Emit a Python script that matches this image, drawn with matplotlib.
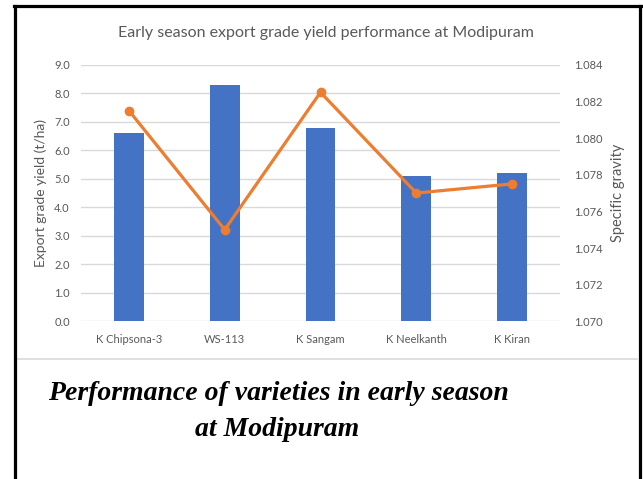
import matplotlib
matplotlib.use("Agg")
import matplotlib.pyplot as plt
from matplotlib.lines import Line2D
import numpy as np

varieties = ["K Chipsona-3", "WS-113", "K Sangam", "K Neelkanth", "K Kiran"]
yield_tha = [6.6, 8.3, 6.8, 5.1, 5.2]
specific_gravity = [1.0815, 1.075, 1.0825, 1.077, 1.0775]
left_ticks = [0.0, 1.0, 2.0, 3.0, 4.0, 5.0, 6.0, 7.0, 8.0, 9.0]
right_ticks = [1.070, 1.072, 1.074, 1.076, 1.078, 1.080, 1.082, 1.084]

W, H = 643, 479
fig = plt.figure(figsize=(W / 100, H / 100), dpi=100)
fig.patch.set_facecolor("white")

gray = "#595959"
grid = "#D9D9D9"
font = ["Lato", "DejaVu Sans"]

ax = fig.add_axes([81 / W, 1 - 321.3 / H, (560 - 81) / W, (321.3 - 64.8) / H])
x = np.arange(len(varieties))
ax.bar(x, yield_tha, width=0.31, color="#4472C4", zorder=2)
ax.set_xlim(-0.5, len(varieties) - 0.5)
ax.set_ylim(0, 9)
ax.set_yticks(left_ticks)
ax.set_yticklabels([f"{v:.1f}" for v in left_ticks], fontfamily=font, fontsize=8, color=gray)
ax.set_xticks(x)
ax.set_xticklabels(varieties, fontfamily=font, fontsize=8, color=gray)
ax.tick_params(axis="both", length=0)
ax.tick_params(axis="y", pad=8)
ax.tick_params(axis="x", pad=9)
ax.yaxis.grid(True, color=grid, linewidth=1, zorder=0)
ax.set_axisbelow(True)
for s in ax.spines.values():
    s.set_visible(False)
ax.set_ylabel("Export grade yield (t/ha)", fontfamily=font, fontsize=10, color=gray, labelpad=5)

ax2 = ax.twinx()
ax2.plot(x, specific_gravity, color="#ED7D31", linewidth=2.3, marker="o", markersize=6, zorder=3)
ax2.set_ylim(1.070, 1.084)
ax2.set_yticks(right_ticks)
ax2.set_yticklabels([f"{v:.3f}" for v in right_ticks], fontfamily=font, fontsize=8, color=gray)
ax2.tick_params(axis="y", length=0, pad=10)
for s in ax2.spines.values():
    s.set_visible(False)
ax2.set_ylabel("Specific gravity", fontfamily=font, fontsize=10.5, color=gray, labelpad=6)

fig.text(326 / W, 1 - 33 / H, "Early season export grade yield performance at Modipuram",
         ha="center", va="center", fontfamily=font, fontsize=11.5, color=gray)

fig.text(278 / W, 1 - 393 / H, "Performance of varieties in early season",
         ha="center", va="center", fontfamily="Liberation Serif", fontweight="bold",
         fontstyle="italic", fontsize=20, color="black")
fig.text(277 / W, 1 - 430 / H, "at Modipuram",
         ha="center", va="center", fontfamily="Liberation Serif", fontweight="bold",
         fontstyle="italic", fontsize=20, color="black")

# chart frame bottom (light gray) and black outer border
fig.add_artist(Line2D([16 / W, 637 / W], [1 - 359 / H, 1 - 359 / H], color=grid, linewidth=1.2))
fig.add_artist(Line2D([14.5 / W, 14.5 / W], [0, 1 - 6 / H], color="black", linewidth=2.3))
fig.add_artist(Line2D([639.5 / W, 639.5 / W], [0, 1 - 6 / H], color="black", linewidth=2.3))
fig.add_artist(Line2D([13.5 / W, 640.5 / W], [1 - 6 / H, 1 - 6 / H], color="black", linewidth=2.3))

fig.savefig("out.png", dpi=100, facecolor="white")
